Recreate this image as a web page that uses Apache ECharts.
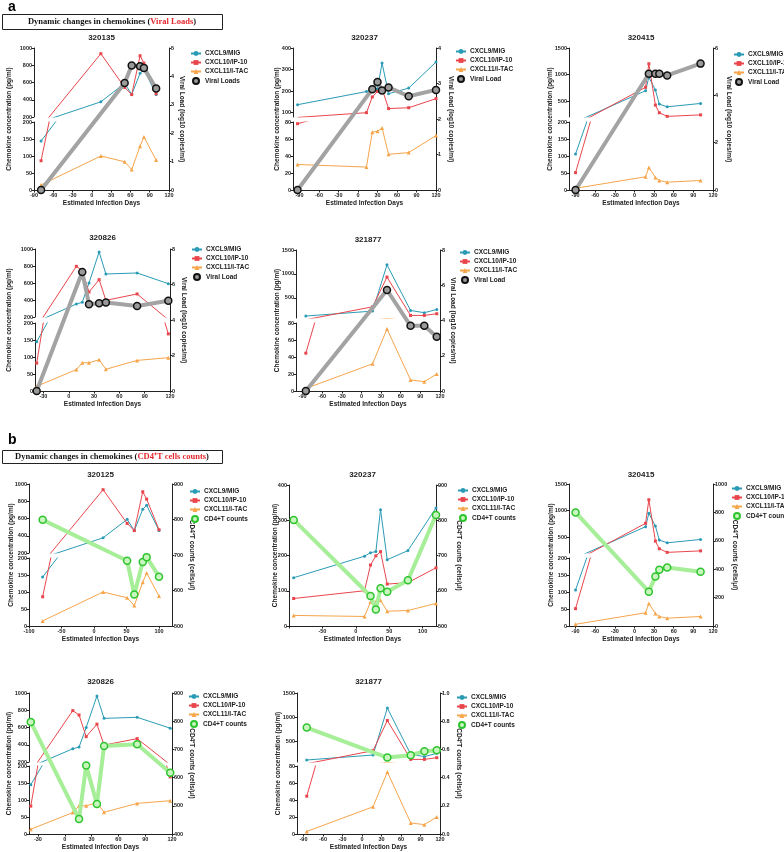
<!DOCTYPE html>
<html>
<head>
<meta charset="utf-8">
<title>Dynamic changes in chemokines</title>
<script src="https://cdn.jsdelivr.net/npm/echarts@6/dist/echarts.min.js"></script>
<style>
html, body { margin: 0; padding: 0; background: #fff; }
#main { width: 784px; height: 852px; }
</style>
</head>
<body>
<div id="main"></div>
<script>
// ---- values ----
// 320135 / 320125 (same chemokine course)
var days320135 = [-79, 14, 51, 62, 75, 81, 100];
var mig320135 = [144, 376, 590, 460, 707, 754, 460];
var ip10_320135 = [86, 934, 543, 460, 910, 825, 470];
var itac320135 = [15, 100, 83, 60, 129, 156, 88];
var vlDays320135 = [-79, 51, 62, 75, 81, 100];
var vl320135 = [0, 3.77, 4.38, 4.36, 4.3, 3.57];
var cd4_320125 = [799, 684, 589, 680, 694, 639];

// 320237
var days320237 = [-93, 13, 22, 30, 37, 47, 78, 120];
var mig320237 = [137, 198, 208, 211, 330, 188, 214, 335];
var ip10_320237 = [78, 100, 173, 199, 211, 119, 123, 165];
var itac320237 = [30, 27, 68, 69, 73, 42, 44, 64];
var vlDays320237 = [-93, 22, 30, 37, 47, 78, 120];
var vl320237 = [0, 2.84, 3.04, 2.8, 2.89, 2.64, 2.82];
var cd4_320237 = [801, 585, 547, 607, 597, 630, 815];

// 320415
var days320415 = [-90, 17, 22, 32, 38, 50, 101];
var mig320415 = [106, 696, 949, 709, 443, 392, 455];
var ip10_320415 = [51, 760, 1203, 424, 280, 212, 240];
var itac320415 = [5, 39, 66, 37, 28, 23, 28];
var vlDays320415 = [-90, 22, 32, 38, 50, 101];
var vl320415 = [0, 4.91, 4.91, 4.91, 4.84, 5.34];
var cd4_320415 = [800, 242, 348, 396, 412, 382];

// 320826
var days320826 = [-38, 9, 16, 24, 36, 44, 81, 118];
var mig320826 = [145, 353, 373, 600, 965, 706, 718, 592];
var ip10_320826 = [82, 796, 745, 494, 639, 396, 471, 168];
var itac320826 = [14, 63, 83, 83, 92, 64, 90, 98];
var vlDays320826 = [-38, 16, 24, 36, 44, 81, 118];
var vl320826 = [0, 6.7, 4.89, 4.94, 4.98, 4.79, 5.08];
var cd4_320826 = [797, 453, 643, 506, 712, 718, 617];

// 321877
var days321877 = [-85, 17, 39, 75, 96, 115];
var mig321877 = [121, 224, 1190, 238, 190, 259];
var ip10_321877 = [44.5, 314, 934, 134, 134, 169];
var itac321877 = [3, 32, 73, 13, 11, 20];
var vlDays321877 = [-85, 39, 75, 96, 115];
var vl321877 = [0, 5.73, 3.7, 3.7, 3.08];
var cd4_321877 = [0.755, 0.542, 0.559, 0.587, 0.594];

// tick labels
var ticksDays90 = [-90, -60, -30, 0, 30, 60, 90, 120];
var ticksDays30 = [-30, 0, 30, 60, 90, 120];
var ticksDays100 = [-100, -50, 0, 50, 100];
var ticksDays50 = [-50, 0, 50, 100];
var ticks1000 = [200, 400, 600, 800, 1000];
var ticks400 = [100, 200, 300, 400];
var ticks1500 = [500, 1000, 1500];
var chemNames = ['CXCL9/MIG', 'CXCL10/IP-10', 'CXCL11/I-TAC'];

// ---- styles ----
var FONT = 'Liberation Sans, Arial, sans-serif';
var chemColors = ['#2a9bb5', '#e8464c', '#f6a54b'];
var chemSymbols = ['circle', 'rect', 'triangle'];
var INK = '#222';

var chart = echarts.init(document.getElementById('main'));

var grid = [], xAxis = [], yAxis = [], series = [], legend = [], graphic = [];

function pairs(xs, ys) {
	return xs.map(function (x, i) { return [x, ys[i]]; });
}
function plain(v) { return String(v); }

var vlName = 'Viral Load (log10 copies/ml)';
var cd4AxisName = 'CD4\u207AT counts (cells/\u03BCl)';

var panels = [
	// ---- a ----
	{ id: '320135', days: days320135, chem: [mig320135, ip10_320135, itac320135], oDays: vlDays320135, oVals: vl320135, oName: 'Viral Loads', kind: 'vl',
	  left: 34, right: 169, top: 48, upB: 117, lowT: 122, bottom: 190, xMin: -90, xMax: 120, xLab: ticksDays90, xTick: ticksDays90,
	  up: [200, 1000], upTicks: ticks1000, low: [0, 200, 50], r: [0, 5, 1], lGap: 21, rGap: 6, leg: [190, 50], titleY: 38 },
	{ id: '320237', days: days320237, chem: [mig320237, ip10_320237, itac320237], oDays: vlDays320237, oVals: vl320237, oName: 'Viral Load', kind: 'vl',
	  left: 293, right: 436, top: 48, upB: 117, lowT: 122, bottom: 190, xMin: -100, xMax: 120, xLab: ticksDays90, xTick: ticksDays90,
	  up: [80, 400], upTicks: ticks400, low: [0, 80, 20], r: [0, 4, 1], lGap: 12, rGap: 11, leg: [455, 48], titleY: 38 },
	{ id: '320415', days: days320415, chem: [mig320415, ip10_320415, itac320415], oDays: vlDays320415, oVals: vl320415, oName: 'Viral Load', kind: 'vl',
	  left: 569, right: 713, top: 48, upB: 117, lowT: 122, bottom: 190, xMin: -100, xMax: 120, xLab: ticksDays90, xTick: ticksDays90,
	  up: [200, 1500], upTicks: ticks1500, low: [0, 200, 50], r: [0, 6, 2], lGap: 15, rGap: 12, leg: [733, 51], titleY: 38 },
	{ id: '320826', days: days320826, chem: [mig320826, ip10_320826, itac320826], oDays: vlDays320826, oVals: vl320826, oName: 'Viral Load', kind: 'vl',
	  left: 35, right: 170, top: 249, upB: 317, lowT: 323, bottom: 391, xMin: -40, xMax: 120, xLab: ticksDays30, xTick: ticksDays30,
	  up: [200, 1000], upTicks: ticks1000, low: [0, 200, 50], r: [0, 8, 2], lGap: 22, rGap: 10, leg: [191, 246], titleY: 238 },
	{ id: '321877', days: days321877, chem: [mig321877, ip10_321877, itac321877], oDays: vlDays321877, oVals: vl321877, oName: 'Viral Load', kind: 'vl',
	  left: 296, right: 440, top: 250, upB: 318, lowT: 323, bottom: 391, xMin: -100, xMax: 120, xLab: ticksDays90, xTick: ticksDays90,
	  up: [80, 1500], upTicks: ticks1500, low: [0, 80, 20], r: [0, 8, 2], lGap: 15, rGap: 6, leg: [459, 249], titleY: 240 },
	// ---- b ----
	{ id: '320125', days: days320135, chem: [mig320135, ip10_320135, itac320135], oDays: vlDays320135, oVals: cd4_320125, oName: 'CD4+T counts', kind: 'cd4',
	  left: 29, right: 172, top: 484, upB: 553, lowT: 558, bottom: 626, xMin: -100, xMax: 120, xLab: ticksDays100, xTick: ticksDays100,
	  up: [200, 1000], upTicks: ticks1000, low: [0, 200, 50], r: [500, 900, 100], lGap: 14, rGap: 16, leg: [189, 488], titleY: 475 },
	{ id: '320237', days: days320237, chem: [mig320237, ip10_320237, itac320237], oDays: vlDays320237, oVals: cd4_320237, oName: 'CD4+T counts', kind: 'cd4',
	  left: 289, right: 436, top: 485, bottom: 626, xMin: -100, xMax: 120, xLab: ticksDays50, xTick: ticksDays100,
	  single: [0, 400, 100], r: [500, 900, 100], lGap: 10, rGap: 19, leg: [457, 487], titleY: 475 },
	{ id: '320415', days: days320415, chem: [mig320415, ip10_320415, itac320415], oDays: vlDays320415, oVals: cd4_320415, oName: 'CD4+T counts', kind: 'cd4',
	  left: 569, right: 713, top: 484, upB: 553, lowT: 558, bottom: 626, xMin: -100, xMax: 120, xLab: ticksDays90, xTick: ticksDays90,
	  up: [200, 1500], upTicks: ticks1500, low: [0, 200, 50], r: [0, 1000, 200], lGap: 14, rGap: 18, leg: [731, 485], titleY: 475 },
	{ id: '320826', days: days320826, chem: [mig320826, ip10_320826, itac320826], oDays: vlDays320826, oVals: cd4_320826, oName: 'CD4+T counts', kind: 'cd4',
	  left: 29, right: 172, top: 693, upB: 762, lowT: 766, bottom: 834, xMin: -40, xMax: 120, xLab: ticksDays30, xTick: ticksDays30,
	  up: [200, 1000], upTicks: ticks1000, low: [0, 200, 50], r: [400, 900, 100], lGap: 16, rGap: 16, leg: [188, 693], titleY: 682 },
	{ id: '321877', days: days321877, chem: [mig321877, ip10_321877, itac321877], oDays: vlDays321877, oVals: cd4_321877, oName: 'CD4+T counts', kind: 'cd4',
	  left: 297, right: 440, top: 693, upB: 762, lowT: 766, bottom: 834, xMin: -100, xMax: 120, xLab: ticksDays90, xTick: ticksDays90,
	  up: [80, 1500], upTicks: ticks1500, low: [0, 80, 20], r: [0, 1, 0.2], lGap: 15, rGap: 15, leg: [456, 694], titleY: 682 }
];

var axisLabelStyle = { fontSize: 5.5, fontWeight: 'bold', color: INK, fontFamily: FONT };
var axisNameStyle = { fontSize: 6.5, fontWeight: 'bold', color: INK, fontFamily: FONT };

function yAx(gi, pos, min, max, opt) {
	var a = {
		gridIndex: gi, type: 'value', position: pos, min: min, max: max,
		axisLine: { show: true, onZero: false, lineStyle: { color: INK, width: 1 } },
		axisTick: { show: true, length: 2.5, lineStyle: { color: INK } },
		axisLabel: Object.assign({ margin: 2, formatter: plain }, axisLabelStyle),
		splitLine: { show: false }
	};
	return Object.assign(a, opt || {});
}

panels.forEach(function (p) {
	var w = p.right - p.left;
	var gs = [];   // chemokine axes pairs: {xi, yi}
	// upper part of the broken axis
	if (p.up) {
		grid.push({ left: p.left, top: p.top, width: w, height: p.upB - p.top });
		var gU = grid.length - 1;
		xAxis.push({ gridIndex: gU, type: 'value', min: p.xMin, max: p.xMax, show: false });
		yAxis.push(yAx(gU, 'left', p.up[0], p.up[1], {
			axisTick: { show: true, length: 2.5, lineStyle: { color: INK }, customValues: p.upTicks },
			axisLabel: Object.assign({ margin: 2, formatter: plain, customValues: p.upTicks }, axisLabelStyle)
		}));
		gs.push({ xi: xAxis.length - 1, yi: yAxis.length - 1 });
	}
	// lower part (or the only part)
	var lt = p.up ? p.lowT : p.top;
	grid.push({ left: p.left, top: lt, width: w, height: p.bottom - lt });
	var gD = grid.length - 1;
	xAxis.push({
		gridIndex: gD, type: 'value', min: p.xMin, max: p.xMax,
		axisLine: { show: true, onZero: false, lineStyle: { color: INK, width: 1 } },
		axisTick: { show: true, length: 2.5, lineStyle: { color: INK }, customValues: p.xTick },
		axisLabel: Object.assign({ margin: 2.5, formatter: plain, customValues: p.xLab }, axisLabelStyle),
		splitLine: { show: false },
		name: 'Estimated Infection Days', nameLocation: 'middle', nameGap: 10,
		nameTextStyle: axisNameStyle
	});
	var lo = p.up ? p.low : p.single;
	yAxis.push(yAx(gD, 'left', lo[0], lo[1], { interval: lo[2] }));
	gs.push({ xi: xAxis.length - 1, yi: yAxis.length - 1 });

	// full-height grid: left axis name + right axis
	grid.push({ left: p.left, top: p.top, width: w, height: p.bottom - p.top });
	var gF = grid.length - 1;
	xAxis.push({ gridIndex: gF, type: 'value', min: p.xMin, max: p.xMax, show: false });
	var xF = xAxis.length - 1;
	yAxis.push({
		gridIndex: gF, type: 'value', position: 'left', min: 0, max: 1,
		axisLine: { show: false, onZero: false }, axisTick: { show: false }, axisLabel: { show: false }, splitLine: { show: false },
		name: 'Chemokine concentration (pg/ml)', nameLocation: 'middle', nameRotate: 90, nameGap: p.lGap,
		nameTextStyle: axisNameStyle
	});
	yAxis.push(yAx(gF, 'right', p.r[0], p.r[1], {
		interval: p.r[2],
		axisLabel: Object.assign({
			margin: 2,
			formatter: function (v) { return p.r[2] < 1 ? v.toFixed(1) : String(v); }
		}, axisLabelStyle),
		name: p.kind === 'vl' ? vlName : cd4AxisName, nameLocation: 'middle', nameRotate: -90, nameGap: p.rGap,
		nameTextStyle: axisNameStyle
	}));
	var yR = yAxis.length - 1;

	// chemokine lines, drawn in each part and clipped to it
	p.chem.forEach(function (vals, k) {
		gs.forEach(function (g) {
			series.push({
				type: 'line', name: chemNames[k], xAxisIndex: g.xi, yAxisIndex: g.yi,
				data: pairs(p.days, vals), clip: true,
				symbol: chemSymbols[k], symbolSize: k === 2 ? 4 : 3,
				lineStyle: { width: 1, color: chemColors[k] },
				itemStyle: { color: chemColors[k] },
				z: 2
			});
		});
	});

	// viral load / CD4 counts on the right axis
	var vl = p.kind === 'vl';
	series.push({
		type: 'line', name: p.oName, xAxisIndex: xF, yAxisIndex: yR,
		data: pairs(p.oDays, p.oVals), clip: false,
		symbol: 'circle', symbolSize: 7,
		lineStyle: { width: 4, color: vl ? '#a3a3a3' : '#a6ee98' },
		itemStyle: vl ? { color: '#9a9a9a', borderColor: '#111', borderWidth: 1.5 }
		              : { color: '#c9f5bf', borderColor: '#2ec42e', borderWidth: 1.5 },
		z: 3
	});

	legend.push({
		left: p.leg[0], top: p.leg[1], orient: 'vertical',
		itemWidth: 10, itemHeight: 6, itemGap: 2, padding: 0,
		textStyle: { fontSize: 6.5, fontWeight: 'bold', color: INK, fontFamily: FONT, padding: [0, 0, 0, -1] },
		data: chemNames.concat([{ name: p.oName, icon: 'circle' }])
	});

	graphic.push({
		type: 'text', x: (p.left + p.right) / 2, y: p.titleY,
		style: { text: p.id, font: 'bold 8px ' + FONT, fill: INK, align: 'center', verticalAlign: 'middle' }
	});
});

// panel letters and boxed headings
graphic.push(
	{ type: 'text', x: 8, y: 0, style: { text: 'a', font: 'bold 14px ' + FONT, fill: '#000' } },
	{ type: 'rect', shape: { x: 2.5, y: 14.5, width: 220, height: 15 }, style: { fill: '#fff', stroke: INK, lineWidth: 1 } },
	{ type: 'text', x: 112, y: 22, style: {
		text: 'Dynamic changes in chemokines ({r|Viral Loads})', font: 'bold 8.5px Liberation Serif, serif', fill: '#111',
		align: 'center', verticalAlign: 'middle',
		rich: { r: { fill: '#e5282d', font: 'bold 8.5px Liberation Serif, serif' } } } },
	{ type: 'text', x: 8, y: 433, style: { text: 'b', font: 'bold 14px ' + FONT, fill: '#000' } },
	{ type: 'rect', shape: { x: 2.5, y: 450.5, width: 220, height: 13 }, style: { fill: '#fff', stroke: INK, lineWidth: 1 } },
	{ type: 'text', x: 112, y: 457, style: {
		text: 'Dynamic changes in chemokines ({r|CD4\u207AT cells counts})', font: 'bold 8.5px Liberation Serif, serif', fill: '#111',
		align: 'center', verticalAlign: 'middle',
		rich: { r: { fill: '#e5282d', font: 'bold 8.5px Liberation Serif, serif' } } } }
);

chart.setOption({
	backgroundColor: '#fff',
	animation: false,
	grid: grid,
	xAxis: xAxis,
	yAxis: yAxis,
	legend: legend,
	series: series,
	graphic: graphic
});
</script>
</body>
</html>
